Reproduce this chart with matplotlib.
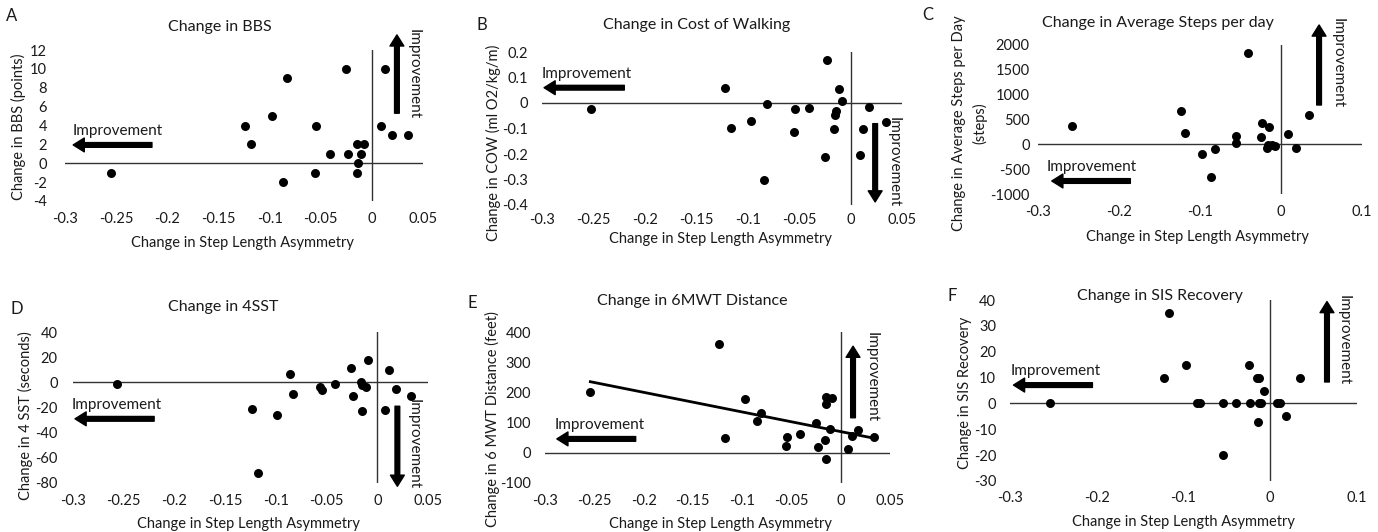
import numpy as np
import matplotlib.pyplot as plt
from matplotlib.ticker import FuncFormatter

plt.rcParams['font.family'] = ['Lato', 'DejaVu Sans']

W, H = 1378, 532

# change in step length asymmetry (x) vs. each outcome (y)
x_bbs = [-0.255, -0.124, -0.118, -0.098, -0.083, -0.087, -0.055, -0.056, -0.041, -0.025,
         -0.023, -0.015, -0.014, -0.015, -0.011, -0.0075, 0.009, 0.013, 0.020, 0.035]
y_bbs = [-1, 4, 2, 5, 9, -2, 4, -1, 1, 10, 1, 2, 0, -1, 1, 2, 4, 10, 3, 3]

x_cow = [-0.2525, -0.122, -0.116, -0.0965, -0.081, -0.084, -0.054, -0.055, -0.040, -0.0226,
         -0.025, -0.011, -0.0137, -0.015, -0.0157, -0.008, 0.009, 0.0124, 0.018, 0.034]
y_cow = [-0.022, 0.059, -0.097, -0.071, -0.005, -0.303, -0.024, -0.115, -0.02, 0.17,
         -0.21, 0.056, -0.031, -0.046, -0.1, 0.008, -0.205, -0.1, -0.016, -0.075]

x_steps = [-0.258, -0.124, -0.118, -0.098, -0.082, -0.087, -0.055, -0.056, -0.041, -0.025,
           -0.0236, -0.015, -0.016, -0.017, -0.0105, -0.0076, 0.009, 0.0185, 0.0345]
y_steps = [376, 678, 221, -195, -87, -651, 174, 20, 1846, 148,
           423, 342, -20, -67, -20, -34, 201, -67, 590]

x_sst = [-0.257, -0.124, -0.118, -0.099, -0.086, -0.083, -0.056, -0.055, -0.042, -0.026,
         -0.024, -0.0165, -0.0155, -0.015, -0.011, -0.009, 0.0076, 0.0116, 0.0185, 0.0334]
y_sst = [-1, -21, -72, -26, 7, -9, -4, -6, -1, 11, -11, 0, -2, -23, -4, 18, -22, 10, -5, -11]

x_6mwt = [-0.254, -0.123, -0.117, -0.097, -0.081, -0.085, -0.054, -0.056, -0.041, -0.025,
          -0.023, -0.0145, -0.0145, -0.009, -0.0155, -0.015, -0.011, 0.0074, 0.011, 0.018, 0.034]
y_6mwt = [200, 360, 48, 178, 132, 106, 51, 23, 62, 99,
          18, 162, 185, 180, 41, -20, 79, 14, 54, 77, 53]

x_sis = [-0.254, -0.122, -0.117, -0.097, -0.085, -0.081, -0.055, -0.055, -0.040, -0.025,
         -0.023, -0.015, -0.013, -0.0146, -0.0135, -0.011, -0.0077, 0.0077, 0.0115, 0.0185, 0.034]
y_sis = [0, 10, 35, 15, 0, 0, 0, -20, 0, 15, 0, 10, 10, -7, 0, 0, 5, 0, 0, -5, 10]

xlabel = 'Change in Step Length Asymmetry'

panels = [
    dict(letter='A', title='Change in BBS', ylabel='Change in BBS (points)',
         x=x_bbs, y=y_bbs, box=(65, 50, 423, 201), xlim=(-0.3, 0.05), xstep=0.05,
         ylim=(-4, 12), ystep=2, letter_px=(12, 16), title_px=(220, 27),
         ylab_px=(18, 127), xlab_px=(242, 243), ypad=13, xpad=8,
         harrow=((-0.215, 1.94), (-0.292, 1.94)), htext=(-0.293, 3.4),
         varrow=((0.0245, 5.3), (0.0245, 13.6)), vtext=(0.041, 9.5)),
    dict(letter='B', title='Change in Cost of Walking', ylabel='Change in COW (ml O2/kg/m)',
         x=x_cow, y=y_cow, box=(542, 52, 902, 205), xlim=(-0.3, 0.05), xstep=0.05,
         ylim=(-0.4, 0.2), ystep=0.1, letter_px=(482, 25), title_px=(697, 25),
         ylab_px=(493, 143), xlab_px=(720, 239), ypad=10, xpad=6,
         harrow=((-0.22, 0.06), (-0.298, 0.06)), htext=(-0.3, 0.115),
         varrow=((0.0239, -0.081), (0.0239, -0.388)), vtext=(0.042, -0.23)),
    dict(letter='C', title='Change in Average Steps per day',
         ylabel='Change in Average Steps per Day\n(steps)',
         x=x_steps, y=y_steps, box=(1038, 45, 1362, 194), xlim=(-0.3, 0.1), xstep=0.1,
         ylim=(-1000, 2000), ystep=500, letter_px=(928, 15), title_px=(1158, 23),
         ylab_px=(970, 123), xlab_px=(1197, 237), ypad=6, xpad=8,
         harrow=((-0.186, -738), (-0.283, -738)), htext=(-0.289, -450),
         varrow=((0.047, 792), (0.047, 2403)), vtext=(0.07, 1630)),
    dict(letter='D', title='Change in 4SST', ylabel='Change in 4 SST (seconds)',
         x=x_sst, y=y_sst, box=(73, 332, 428, 483), xlim=(-0.3, 0.05), xstep=0.05,
         ylim=(-80, 40), ystep=20, letter_px=(17, 309), title_px=(223, 307),
         ylab_px=(25, 416), xlab_px=(248, 524), ypad=11, xpad=8,
         harrow=((-0.22, -29), (-0.298, -29)), htext=(-0.301, -17.7),
         varrow=((0.0198, -19), (0.0198, -82.6)), vtext=(0.0357, -48.7)),
    dict(letter='E', title='Change in 6MWT Distance', ylabel='Change in 6 MWT Distance (feet)',
         x=x_6mwt, y=y_6mwt, box=(545, 332, 890, 483), xlim=(-0.3, 0.05), xstep=0.05,
         ylim=(-100, 400), ystep=100, letter_px=(472, 303), title_px=(692, 301),
         ylab_px=(492, 419), xlab_px=(720, 524), ypad=10, xpad=8, trend=True,
         harrow=((-0.208, 46), (-0.288, 46)), htext=(-0.29, 91),
         varrow=((0.0125, 116), (0.0125, 353)), vtext=(0.031, 251)),
    dict(letter='F', title='Change in SIS Recovery', ylabel='Change in SIS Recovery',
         x=x_sis, y=y_sis, box=(1010, 300, 1357, 481), xlim=(-0.3, 0.1), xstep=0.1,
         ylim=(-30, 40), ystep=10, letter_px=(952, 296), title_px=(1160, 296),
         ylab_px=(965, 393), xlab_px=(1183, 522), ypad=10, xpad=7,
         harrow=((-0.205, 7.1), (-0.296, 7.1)), htext=(-0.299, 12.6),
         varrow=((0.0654, 8.3), (0.0654, 39.4)), vtext=(0.0846, 24.6)),
]

txt = '#1a1a1a'
fig = plt.figure(figsize=(W / 100, H / 100), dpi=100)


def fx(px):
    return px / W


def fy(py):
    return 1 - py / H


def tick_fmt(v, pos):
    v = round(v, 4) + 0.0
    if v == 0:
        return '0'
    return '%g' % v


arrow_kw = dict(facecolor='black', edgecolor='black', width=3.4, headwidth=10,
                headlength=8, shrink=0)

for p in panels:
    l, t, r, b = p['box']
    ax = fig.add_axes([fx(l), fy(b), (r - l) / W, (b - t) / H])
    for s in ax.spines.values():
        s.set_visible(False)
    ax.set_xlim(*p['xlim'])
    ax.set_ylim(*p['ylim'])
    ax.set_xticks(np.arange(p['xlim'][0], p['xlim'][1] + 1e-9, p['xstep']))
    ax.set_yticks(np.arange(p['ylim'][0], p['ylim'][1] + 1e-9, p['ystep']))
    ax.xaxis.set_major_formatter(FuncFormatter(tick_fmt))
    ax.yaxis.set_major_formatter(FuncFormatter(tick_fmt))
    ax.tick_params(length=0, labelsize=10.5, colors=txt)
    ax.tick_params(axis='x', pad=p['xpad'])
    ax.tick_params(axis='y', pad=p['ypad'])
    ax.axhline(0, color='#333333', lw=1, zorder=1)
    ax.axvline(0, color='#333333', lw=1, zorder=1)

    ax.scatter(p['x'], p['y'], s=42, color='black', zorder=3, linewidths=0)

    if p.get('trend'):
        k, c = np.polyfit(p['x'], p['y'], 1)
        xs = np.array([min(p['x']), max(p['x'])])
        ax.plot(xs, k * xs + c, color='black', lw=2, zorder=2)

    ax.annotate('', xy=p['harrow'][1], xytext=p['harrow'][0],
                arrowprops=arrow_kw, annotation_clip=False)
    ax.annotate('', xy=p['varrow'][1], xytext=p['varrow'][0],
                arrowprops=arrow_kw, annotation_clip=False)
    ax.text(*p['htext'], 'Improvement', fontsize=11, color=txt, ha='left', va='center')
    ax.text(*p['vtext'], 'Improvement', fontsize=11, color=txt, ha='center', va='center',
            rotation=270, clip_on=False)

    fig.text(fx(p['letter_px'][0]), fy(p['letter_px'][1]), p['letter'], fontsize=12,
             color=txt, ha='center', va='center')
    fig.text(fx(p['title_px'][0]), fy(p['title_px'][1]), p['title'], fontsize=11.5,
             color=txt, ha='center', va='center')
    fig.text(fx(p['ylab_px'][0]), fy(p['ylab_px'][1]), p['ylabel'], fontsize=10.5,
             color=txt, ha='center', va='center', rotation=90, linespacing=1.5)
    fig.text(fx(p['xlab_px'][0]), fy(p['xlab_px'][1]), xlabel, fontsize=10.5,
             color=txt, ha='center', va='center')

fig.savefig('out.png', dpi=100)
